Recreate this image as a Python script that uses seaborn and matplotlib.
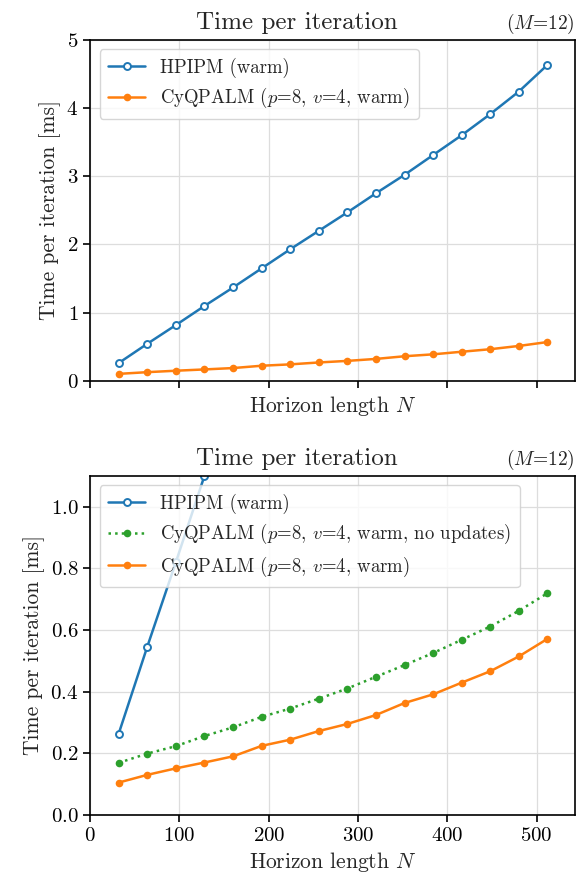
import matplotlib
matplotlib.use("Agg")
import matplotlib.pyplot as plt
import pandas as pd
import seaborn as sns

# horizon lengths N
horizon = [32, 64, 96, 128, 160, 192, 224, 256, 288, 320, 352, 384, 416, 448, 480, 512]

# time per iteration [ms]
hpipm_warm = [0.264, 0.546, 0.82, 1.10, 1.37, 1.65, 1.93, 2.20, 2.47,
              2.75, 3.02, 3.31, 3.60, 3.91, 4.24, 4.63]
cyqpalm_warm = [0.105, 0.130, 0.151, 0.170, 0.190, 0.224, 0.244, 0.272, 0.295,
                0.324, 0.363, 0.391, 0.429, 0.466, 0.514, 0.571]
cyqpalm_no_updates = [0.169, 0.199, 0.223, 0.256, 0.284, 0.318, 0.345, 0.377, 0.410,
                      0.448, 0.486, 0.525, 0.568, 0.611, 0.662, 0.719]

LBL_HPIPM = "HPIPM (warm)"
LBL_CY = r"CyQPALM ($p$=8, $v$=4, warm)"
LBL_CY_NU = r"CyQPALM ($p$=8, $v$=4, warm, no updates)"

BLUE, ORANGE, GREEN = "#1f77b4", "#ff7f0e", "#2ca02c"

sns.set_theme(style="ticks")
plt.rcParams.update({
    "font.family": ["cmr10", "DejaVu Serif"],
    "mathtext.fontset": "cm",
    "axes.formatter.use_mathtext": True,
    "axes.unicode_minus": False,
    "axes.edgecolor": "black",
    "axes.linewidth": 1.2,
    "xtick.major.width": 1.2,
    "ytick.major.width": 1.2,
    "xtick.major.size": 5,
    "ytick.major.size": 5,
    "xtick.labelsize": 15,
    "ytick.labelsize": 15,
    "xtick.color": "black",
    "ytick.color": "black",
})

df = pd.DataFrame({"N": horizon, "hpipm": hpipm_warm,
                   "cy": cyqpalm_warm, "cy_nu": cyqpalm_no_updates})

fig = plt.figure(figsize=(5.78, 8.81), dpi=100)
ax1 = fig.add_axes([0.156, 0.5675, 0.839, 0.3875])
ax2 = fig.add_axes([0.156, 0.075, 0.839, 0.385], sharex=ax1)

hollow = dict(marker="o", markersize=5, markerfacecolor="white",
              markeredgecolor=BLUE, markeredgewidth=1.4)
filled = dict(marker="o", markersize=5.5, markeredgewidth=0)

# top panel
sns.lineplot(data=df, x="N", y="hpipm", ax=ax1, color=BLUE, linewidth=1.8,
             label=LBL_HPIPM, **hollow)
sns.lineplot(data=df, x="N", y="cy", ax=ax1, color=ORANGE, linewidth=1.8,
             label=LBL_CY, **filled)
ax1.set_ylim(0, 5)

# bottom panel
sns.lineplot(data=df, x="N", y="hpipm", ax=ax2, color=BLUE, linewidth=1.8,
             label=LBL_HPIPM, **hollow)
sns.lineplot(data=df, x="N", y="cy_nu", ax=ax2, color=GREEN, linewidth=1.8,
             linestyle=":", label=LBL_CY_NU, **filled)
sns.lineplot(data=df, x="N", y="cy", ax=ax2, color=ORANGE, linewidth=1.8,
             label=LBL_CY, **filled)
ax2.set_ylim(0, 1.1)
ax2.set_yticks([0.0, 0.2, 0.4, 0.6, 0.8, 1.0])
ax2.set_xlim(0, 543)
ax2.set_xticks([0, 100, 200, 300, 400, 500])

for ax in (ax1, ax2):
    ax.grid(True, color="#dddddd", linewidth=0.9)
    ax.set_axisbelow(True)
    ax.set_xlabel(r"Horizon length $N$", fontsize=15.5)
    ax.set_ylabel("Time per iteration [ms]", fontsize=15.5)
    ax.set_title("Time per iteration", fontsize=18, x=0.427, pad=6)
    ax.set_title(r"($M$=12)", loc="right", fontsize=14, pad=8)
    for s in ax.spines.values():
        s.set_visible(True)
        s.set_color("black")
    ax.legend(loc="upper left", fontsize=13.5, framealpha=0.8,
              handlelength=2.0, borderpad=0.45, labelspacing=0.45)

plt.setp(ax1.get_xticklabels(), visible=False)

fig.savefig("out.png", dpi=100)
